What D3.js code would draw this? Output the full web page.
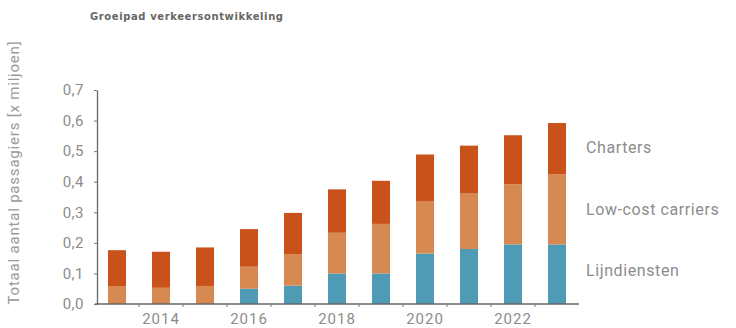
<!DOCTYPE html>
<html>
<head>
<meta charset="utf-8">
<script src="https://cdn.jsdelivr.net/npm/d3@7"></script>
<style>
  html, body { margin: 0; padding: 0; background: #fff; }
  svg { display: block; }
  text { font-family: Roboto, "Noto Sans", sans-serif; }
</style>
</head>
<body>
<svg id="chart" width="736" height="328"></svg>
<script>
// Passenger growth path, stacked per year (x million passengers)
const years = [2013, 2014, 2015, 2016, 2017, 2018, 2019, 2020, 2021, 2022, 2023];
const lijndiensten = [0, 0, 0, 0.05, 0.06, 0.10, 0.10, 0.165, 0.18, 0.195, 0.195];
const lowCost = [0.057, 0.053, 0.059, 0.072, 0.102, 0.133, 0.162, 0.172, 0.183, 0.197, 0.229];
const charters = [0.119, 0.118, 0.126, 0.123, 0.136, 0.142, 0.141, 0.152, 0.155, 0.160, 0.168];
const seriesNames = ["Lijndiensten", "Low-cost carriers", "Charters"];
const yTicks = [0, 0.1, 0.2, 0.3, 0.4, 0.5, 0.6, 0.7];
const yearLabels = [2014, 2016, 2018, 2020, 2022];

const colors = {
  "Lijndiensten": "#4f9bb6",
  "Low-cost carriers": "#d68a52",
  "Charters": "#c8521a"
};

const rows = years.map((yr, i) => ({
  year: yr,
  "Lijndiensten": lijndiensten[i],
  "Low-cost carriers": lowCost[i],
  "Charters": charters[i]
}));

const svg = d3.select("#chart");
const x0 = 95, x1 = 579, yBottom = 304, yTop = 90;

const x = d3.scaleBand()
  .domain(years)
  .range([x0, x1])
  .paddingInner(0.59)
  .paddingOuter(0.295);

const y = d3.scaleLinear().domain([0, 0.7]).range([yBottom, yTop]);

const stack = d3.stack().keys(seriesNames);
const layers = stack(rows);

// Stacked bars
svg.append("g")
  .selectAll("g")
  .data(layers)
  .join("g")
  .attr("fill", d => colors[d.key])
  .selectAll("rect")
  .data(d => d)
  .join("rect")
  .attr("x", d => x(d.data.year))
  .attr("width", x.bandwidth())
  .attr("y", d => y(d[1]))
  .attr("height", d => y(d[0]) - y(d[1]));

// Y axis
const fmt = v => d3.format(".1f")(v).replace(".", ",");
const yAxis = svg.append("g")
  .attr("transform", `translate(${x0 + 2},0)`)
  .call(d3.axisLeft(y).tickValues(yTicks).tickFormat(fmt).tickSize(3).tickSizeOuter(0).tickPadding(10));
yAxis.select(".domain").attr("stroke", "#666").attr("stroke-width", 1.3);
yAxis.selectAll(".tick line").attr("stroke", "#777");
yAxis.selectAll(".tick text")
  .attr("fill", "#8c8c8c")
  .style("font-size", "15px")
  .style("letter-spacing", "0.5px");

// X axis: baseline with small ticks at band boundaries
const step = x.step();
const boundaries = years.slice(1).map(yr => x(yr) - (step - x.bandwidth()) / 2);
const xAxis = svg.append("g");
xAxis.append("line")
  .attr("x1", x0).attr("x2", x1)
  .attr("y1", yBottom).attr("y2", yBottom)
  .attr("stroke", "#666").attr("stroke-width", 1.3);
xAxis.selectAll("line.tick")
  .data(boundaries)
  .join("line")
  .attr("class", "tick")
  .attr("x1", d => d).attr("x2", d => d)
  .attr("y1", yBottom).attr("y2", yBottom + 3)
  .attr("stroke", "#777");
xAxis.selectAll("text")
  .data(yearLabels)
  .join("text")
  .attr("x", d => x(d) + x.bandwidth() / 2)
  .attr("y", 324)
  .attr("text-anchor", "middle")
  .attr("fill", "#8c8c8c")
  .style("font-size", "15px")
  .style("letter-spacing", "1px")
  .text(d => d);

// Series labels beside the last bar
const labelY = { "Charters": 153, "Low-cost carriers": 215, "Lijndiensten": 276 };
svg.append("g")
  .selectAll("text")
  .data(seriesNames)
  .join("text")
  .attr("x", 586)
  .attr("y", d => labelY[d])
  .attr("fill", "#8c8c8c")
  .style("font-size", "16px")
  .style("letter-spacing", "0.6px")
  .text(d => d);

// Title
svg.append("text")
  .attr("x", 90)
  .attr("y", 20)
  .attr("fill", "#666")
  .style("font-family", "'DejaVu Sans', sans-serif")
  .style("font-size", "10px")
  .style("font-weight", "bold")
  .style("letter-spacing", "0.6px")
  .text("Groeipad verkeersontwikkeling");

// Y axis title
svg.append("text")
  .attr("transform", `translate(19,${(40 + 305) / 2}) rotate(-90)`)
  .attr("text-anchor", "middle")
  .attr("fill", "#9a9a9a")
  .style("font-size", "15px")
  .style("letter-spacing", "0.8px")
  .text("Totaal aantal passagiers [x miljoen]");
</script>
</body>
</html>
